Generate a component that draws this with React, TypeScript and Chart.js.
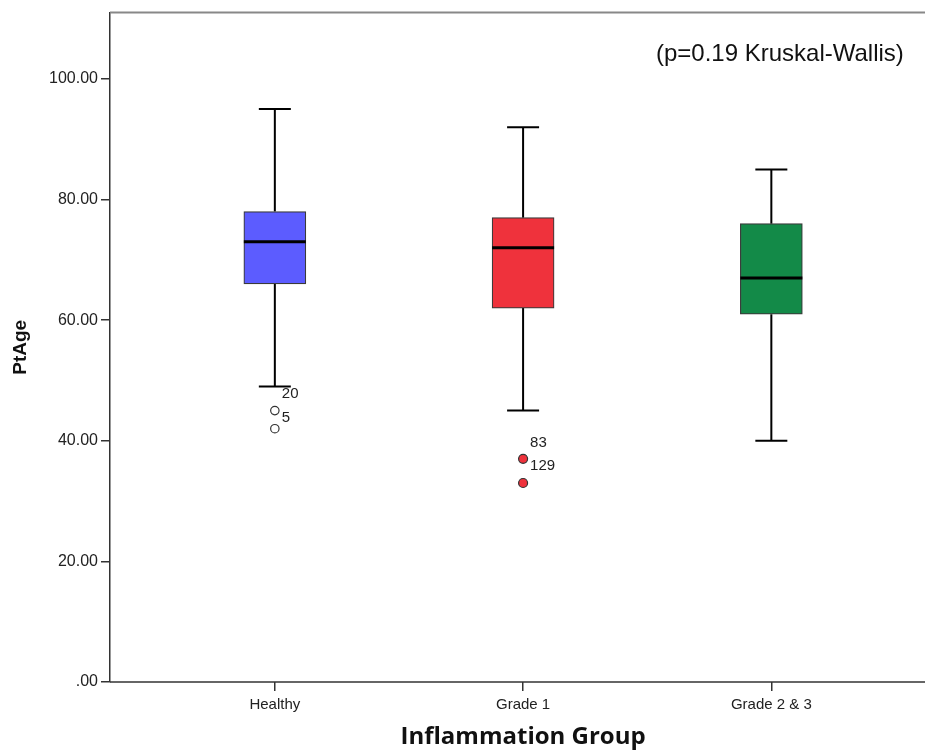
import React, { useEffect, useRef } from "react";
import { Chart, registerables } from "chart.js";

Chart.register(...registerables);

// Groups along the x axis
const groups = ["Healthy", "Grade 1", "Grade 2 & 3"];

// Five-number summaries per group (PtAge)
const whiskerLow = [49, 45, 40];
const q1 = [66, 62, 61];
const median = [73, 72, 67];
const q3 = [78, 77, 76];
const whiskerHigh = [95, 92, 85];

// Box fill colours
const boxColors = ["#5c5cff", "#ef323c", "#138a48"];

// Outlying cases
const healthyOutliers = [45, 42];
const grade1Outliers = [37, 33];

// Case labels next to outliers: group index, value, case number
const caseLabelGroup = [0, 0, 1, 1];
const caseLabelValue = [49, 45, 37, 37];
const caseLabelText = ["20", "5", "129", "83"];

// Y tick values
const yTicks = [0, 20, 40, 60, 80, 100];

const note = "(p=0.19 Kruskal-Wallis)";
const xTitle = "Inflammation Group";
const yTitle = "PtAge";

const boxPlotPlugin = {
  id: "boxPlotParts",
  beforeDatasetsDraw(chart: any) {
    const { ctx } = chart;
    const xs = chart.scales.x;
    const ys = chart.scales.y;
    ctx.save();
    ctx.strokeStyle = "#000";
    ctx.lineWidth = 2;
    groups.forEach((_, i) => {
      const x = xs.getPixelForValue(i);
      const yl = ys.getPixelForValue(whiskerLow[i]);
      const yh = ys.getPixelForValue(whiskerHigh[i]);
      const y1 = ys.getPixelForValue(q1[i]);
      const y3 = ys.getPixelForValue(q3[i]);
      ctx.beginPath();
      ctx.moveTo(x, yh);
      ctx.lineTo(x, y3);
      ctx.moveTo(x, y1);
      ctx.lineTo(x, yl);
      ctx.moveTo(x - 16, yh);
      ctx.lineTo(x + 16, yh);
      ctx.moveTo(x - 16, yl);
      ctx.lineTo(x + 16, yl);
      ctx.stroke();
    });
    ctx.restore();
  },
  afterDatasetDraw(chart: any, args: any) {
    if (args.index !== 0) return;
    const { ctx } = chart;
    const xs = chart.scales.x;
    const ys = chart.scales.y;
    ctx.save();
    ctx.strokeStyle = "#000";
    ctx.lineWidth = 3;
    groups.forEach((_, i) => {
      const x = xs.getPixelForValue(i);
      const ym = ys.getPixelForValue(median[i]);
      ctx.beginPath();
      ctx.moveTo(x - 31, ym);
      ctx.lineTo(x + 31, ym);
      ctx.stroke();
    });
    ctx.restore();
  },
  afterDraw(chart: any) {
    const { ctx, chartArea } = chart;
    const xs = chart.scales.x;
    const ys = chart.scales.y;
    ctx.save();
    // frame line along the top of the plot
    ctx.strokeStyle = "#888";
    ctx.lineWidth = 2;
    ctx.beginPath();
    ctx.moveTo(chartArea.left, chartArea.top);
    ctx.lineTo(chart.width, chartArea.top);
    ctx.stroke();
    // x axis line running out to the edge of the canvas
    const yb = ys.getPixelForValue(0);
    ctx.strokeStyle = "#333";
    ctx.lineWidth = 1.5;
    ctx.beginPath();
    ctx.moveTo(chartArea.left, yb);
    ctx.lineTo(chart.width, yb);
    ctx.stroke();

    // case numbers beside outliers (repeated values stack upward)
    ctx.fillStyle = "#222";
    ctx.font = "15px 'Liberation Sans', Arial, sans-serif";
    ctx.textAlign = "left";
    ctx.textBaseline = "middle";
    const seen: Record<string, number> = {};
    caseLabelText.forEach((t, k) => {
      const key = caseLabelGroup[k] + ":" + caseLabelValue[k];
      const n = seen[key] || 0;
      seen[key] = n + 1;
      const x = xs.getPixelForValue(caseLabelGroup[k]) + 7;
      const y = ys.getPixelForValue(caseLabelValue[k]) + 7 - n * 23;
      ctx.fillText(t, x, y);
    });

    // test note
    ctx.fillStyle = "#111";
    ctx.font = "24px 'Liberation Sans', Arial, sans-serif";
    ctx.textAlign = "left";
    ctx.fillText(note, 656, 54);

    // axis titles
    ctx.font = "bold 24px 'Open Sans', sans-serif";
    ctx.textAlign = "center";
    ctx.fillText(xTitle, xs.getPixelForValue(1), 737);
    ctx.save();
    ctx.translate(21, (chartArea.top + chartArea.bottom) / 2);
    ctx.rotate(-Math.PI / 2);
    ctx.font = "bold 19px 'Liberation Sans', Arial, sans-serif";
    ctx.fillText(yTitle, 0, 0);
    ctx.restore();
    ctx.restore();
  },
};

export default function App() {
  const ref = useRef<HTMLCanvasElement>(null);

  useEffect(() => {
    if (!ref.current) return;
    const chart = new Chart(ref.current, {
      type: "bar",
      data: {
        datasets: [
          {
            type: "bar",
            data: groups.map((_, i) => ({ x: i, y: [q1[i], q3[i]] })) as any,
            backgroundColor: boxColors,
            borderColor: "#3a3a3a",
            borderWidth: 1.2,
            borderSkipped: false,
            barThickness: 62,
          },
          {
            type: "scatter",
            data: healthyOutliers.map((v) => ({ x: 0, y: v })),
            pointRadius: 4.2,
            backgroundColor: "#fff",
            borderColor: "#333",
            borderWidth: 1.2,
          },
          {
            type: "scatter",
            data: grade1Outliers.map((v) => ({ x: 1, y: v })),
            pointRadius: 4.5,
            backgroundColor: boxColors[1],
            borderColor: "#333",
            borderWidth: 1.2,
          },
        ] as any,
      },
      options: {
        responsive: false,
        animation: false,
        layout: { padding: { top: 12, left: 0, right: 0, bottom: 0 } },
        plugins: { legend: { display: false }, tooltip: { enabled: false } },
        scales: {
          x: {
            type: "linear",
            offset: false,
            min: -0.664,
            max: 2.596,
            afterFit: (s: any) => {
              s.height = 73;
              s.paddingRight = 0;
              s.paddingLeft = 0;
            },
            afterBuildTicks: (s: any) => {
              s.ticks = groups.map((_, i) => ({ value: i }));
            },
            ticks: {
              callback: (v: any) => groups[v] ?? "",
              color: "#222",
              font: { family: "'Liberation Sans', Arial, sans-serif", size: 15 },
              padding: 5,
              maxRotation: 0,
              autoSkip: false,
            },
            grid: {
              offset: false,
              drawOnChartArea: false,
              drawTicks: true,
              tickLength: 9,
              color: "#333",
              lineWidth: 1.5,
            },
            border: { display: false },
          },
          y: {
            type: "linear",
            min: 0,
            max: 111,
            afterFit: (s: any) => {
              s.width = 110;
            },
            afterBuildTicks: (s: any) => {
              s.ticks = yTicks.map((v) => ({ value: v }));
            },
            ticks: {
              callback: (v: any) => (v === 0 ? ".00" : Number(v).toFixed(2)),
              color: "#222",
              font: { family: "'Liberation Sans', Arial, sans-serif", size: 16 },
              padding: 3,
            },
            grid: {
              drawOnChartArea: false,
              drawTicks: true,
              tickLength: 9,
              color: "#333",
              lineWidth: 1.5,
            },
            border: { display: true, color: "#333", width: 1.5 },
          },
        },
      },
      plugins: [boxPlotPlugin],
    });
    return () => chart.destroy();
  }, []);

  return (
    <canvas
      ref={ref}
      width={925}
      height={755}
      style={{ position: "absolute", left: 0, top: 0, width: 925, height: 755 }}
    />
  );
}
